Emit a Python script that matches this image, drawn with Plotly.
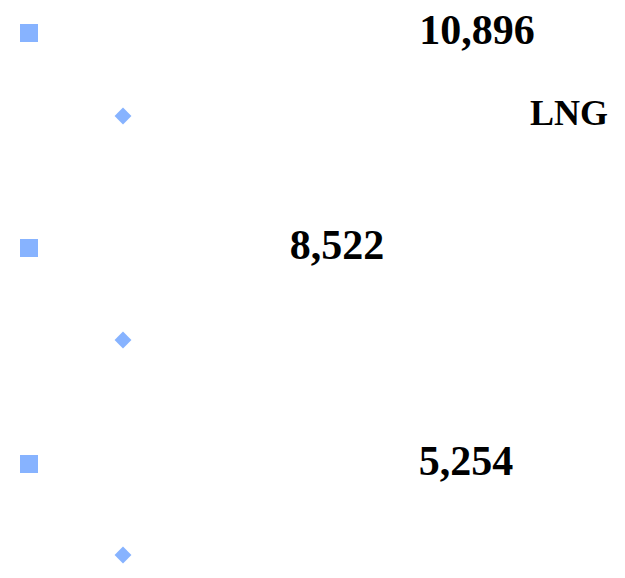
import plotly.graph_objects as go

# 可见内容：三个一级要点（方块）及其数值，三个二级要点（菱形）
values = [10896, 8522, 5254]
sub_labels = ["LNG", "", ""]

# 页面布局（屏幕像素坐标）
W, H = 625, 578
OFF = 8  # 页面 body 默认边距
row_y = [33, 248, 464]
sub_y = [116, 340, 555]
value_x = [477, 337, 466]
sub_x = [569, 569, 569]
bullet_x = 29
sub_bullet_x = 123
bullet_color = "#87b3ff"

fig = go.Figure()

# 一级要点的方块符号
fig.add_trace(go.Scatter(
    x=[bullet_x] * len(values),
    y=row_y,
    mode="markers",
    marker=dict(symbol="square", size=18, color=bullet_color),
    hoverinfo="skip",
    showlegend=False
))

# 二级要点的菱形符号
fig.add_trace(go.Scatter(
    x=[sub_bullet_x] * len(sub_labels),
    y=sub_y,
    mode="markers",
    marker=dict(symbol="diamond", size=13, color=bullet_color),
    hoverinfo="skip",
    showlegend=False
))

# 数值
fig.add_trace(go.Scatter(
    x=value_x,
    y=row_y,
    mode="text",
    text=[f"{v:,}" for v in values],
    textposition="middle center",
    textfont=dict(family="Liberation Serif", size=42, color="black", weight="bold"),
    cliponaxis=False,
    hoverinfo="skip",
    showlegend=False
))

# 二级要点文字
fig.add_trace(go.Scatter(
    x=sub_x,
    y=sub_y,
    mode="text",
    text=sub_labels,
    textposition="middle center",
    textfont=dict(family="Liberation Serif", size=36, color="black", weight="bold"),
    cliponaxis=False,
    hoverinfo="skip",
    showlegend=False
))

fig.update_xaxes(range=[OFF, W + OFF], visible=False, fixedrange=True)
fig.update_yaxes(range=[H + OFF, OFF], visible=False, fixedrange=True)
fig.update_layout(
    width=W, height=H,
    margin=dict(l=0, r=0, t=0, b=0),
    plot_bgcolor="white",
    paper_bgcolor="white",
)

fig.write_html("out.html")
